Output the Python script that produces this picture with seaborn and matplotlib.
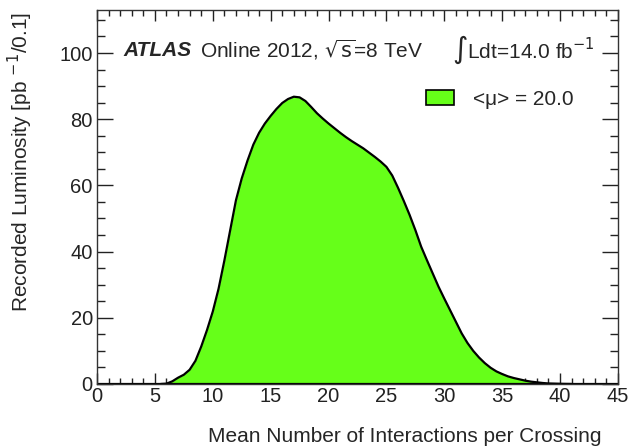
import matplotlib
matplotlib.use('Agg')

import seaborn as sns
import matplotlib.pyplot as plt
from matplotlib.patches import Patch
from matplotlib.ticker import MultipleLocator
import pandas as pd

# 读图得到的数据点 (平均相互作用数, 记录亮度)
mu值 = [5.5, 6.0, 6.5, 7.0, 7.5, 8.0, 8.5, 9.0, 9.5, 10.0, 10.5, 11.0, 11.5, 12.0,
        12.5, 13.0, 13.5, 14.0, 14.5, 15.0, 15.5, 16.0, 16.5, 17.0, 17.5, 18.0,
        18.5, 19.0, 19.5, 20.0, 20.5, 21.0, 21.5, 22.0, 22.5, 23.0, 23.5, 24.0,
        24.5, 25.0, 25.5, 26.0, 26.5, 27.0, 27.5, 28.0, 28.5, 29.0, 29.5, 30.0,
        30.5, 31.0, 31.5, 32.0, 32.5, 33.0, 33.5, 34.0, 34.5, 35.0, 35.5, 36.0,
        36.5, 37.0, 37.5, 38.0, 38.5, 39.0, 39.5, 40.0, 40.5, 41.0]
亮度值 = [0.0, 0.1, 0.8, 1.9, 2.8, 4.3, 7.0, 11.3, 16.3, 21.9, 28.8, 37.3, 46.4, 55.5,
        62.1, 67.5, 72.3, 75.9, 78.7, 81.0, 83.1, 84.9, 86.1, 86.8, 86.6, 85.5,
        83.7, 81.8, 80.2, 78.7, 77.3, 75.9, 74.6, 73.4, 72.3, 71.2, 69.9, 68.6,
        67.2, 65.6, 63.0, 59.3, 55.3, 51.1, 46.5, 41.5, 37.4, 33.4, 29.4, 25.8,
        22.3, 18.8, 15.3, 12.4, 10.0, 8.0, 6.3, 4.9, 3.8, 3.0, 2.3, 1.8,
        1.4, 1.0, 0.7, 0.5, 0.3, 0.15, 0.1, 0.05, 0.02, 0.0]

df = pd.DataFrame({'mu': mu值, 'lumi': 亮度值})

sns.set_theme(style="ticks")
plt.rcParams['font.family'] = ['Liberation Sans', 'DejaVu Sans']

绿色 = '#66ff19'

fig = plt.figure(figsize=(6.28, 4.48), dpi=100)
ax = fig.add_axes([0.1545, 0.1429, 0.8295, 0.8348])

ax.fill_between(df['mu'], df['lumi'], color=绿色, lw=0)
sns.lineplot(x='mu', y='lumi', data=df, ax=ax, color='black', lw=1.6)
ax.plot([0, 45], [0, 0], color='black', lw=1.6)

ax.set_xlim(0, 45)
ax.set_ylim(0, 113)
ax.xaxis.set_major_locator(MultipleLocator(5))
ax.xaxis.set_minor_locator(MultipleLocator(1))
ax.yaxis.set_major_locator(MultipleLocator(20))
ax.yaxis.set_minor_locator(MultipleLocator(5))
ax.tick_params(axis='both', which='both', direction='in', top=True, right=True,
               labelsize=14.5, colors='#222222', width=1)
ax.tick_params(axis='y', which='major', length=11.5, pad=3)
ax.tick_params(axis='y', which='minor', length=6)
ax.tick_params(axis='x', which='major', length=8, pad=2)
ax.tick_params(axis='x', which='minor', length=4.5)
for sp in ax.spines.values():
    sp.set_color('#333333')
    sp.set_linewidth(1)

ax.set_xlabel('Mean Number of Interactions per Crossing', fontsize=15, loc='right')
ax.xaxis.set_label_coords(0.969, -0.115)
ax.set_ylabel('Recorded Luminosity [pb $^{-1}$/0.1]', fontsize=15, loc='top')
ax.yaxis.set_label_coords(-0.12, 0.995)

ax.text(0.05, 0.893, 'ATLAS', transform=ax.transAxes, fontsize=15,
        fontweight='bold', fontstyle='italic', va='center')
ax.text(0.198, 0.893, r'Online 2012, $\sqrt{\mathrm{s}}$=8 TeV', transform=ax.transAxes,
        fontsize=15, va='center')
ax.text(0.681, 0.893, r'$\int$Ldt=14.0 fb$^{-1}$', transform=ax.transAxes,
        fontsize=15, va='center')

句柄 = [Patch(facecolor=绿色, edgecolor='black', lw=1.2)]
ax.legend(句柄, ['<μ> = 20.0'], loc='center left', bbox_to_anchor=(0.631, 0.761),
          frameon=False, fontsize=15, handlelength=1.35, handleheight=0.72,
          handletextpad=0.9, borderpad=0, borderaxespad=0)

plt.savefig('out.png', dpi=100)
